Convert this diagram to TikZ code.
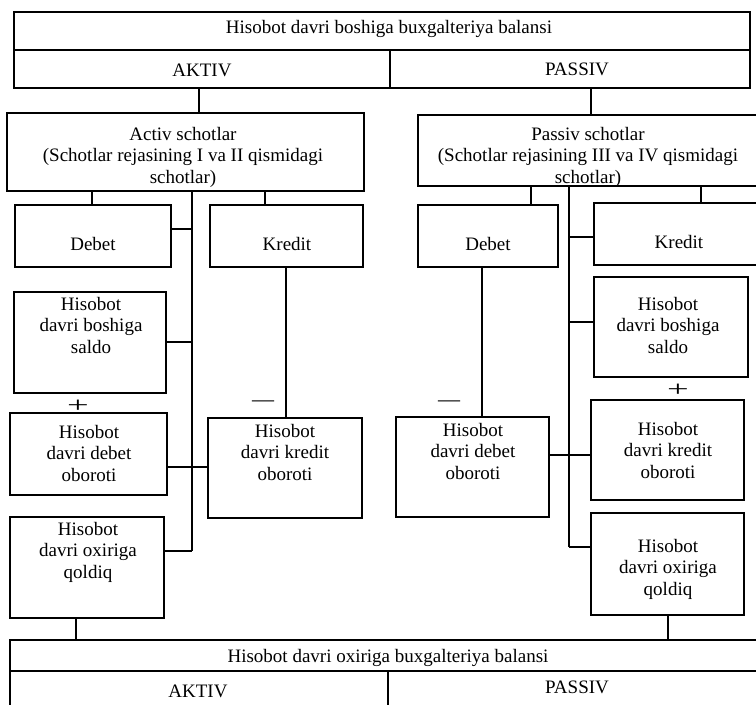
\documentclass[tikz,border=0pt]{standalone}
\usepackage{fontspec}
\usepackage{graphicx}
\setmainfont{Liberation Serif}
\usetikzlibrary{fit}
\begin{document}
\begin{tikzpicture}[x=1pt,y=-1pt,
  box/.style={draw, line width=1.5pt, inner sep=0pt, fit={#1}},
  txt/.style={align=center, inner sep=0pt, font=\fontsize{19}{21.5}\selectfont},
  sgn/.style={inner sep=0pt, font=\fontsize{22}{22}\selectfont},
  con/.style={line width=1.4pt}]
\useasboundingbox (0,0) rectangle (756,705);
\clip (0,0) rectangle (756,705);
% boxes
\node[box={(14,12) (750,50)}] (topT) {};
\node[box={(14,50) (390,88)}] (topA) {};
\node[box={(390,50) (750,88)}] (topP) {};
\node[box={(7,113) (364,191)}] (actB) {};
\node[box={(418,115) (775,186)}] (pasB) {};
\node[box={(15,205) (171,267)}] (debL) {};
\node[box={(210,205) (363,267)}] (kreL) {};
\node[box={(14,292) (166,393)}] (saldoL) {};
\node[box={(10,413) (167,495)}] (debObL) {};
\node[box={(208,418) (362,518)}] (kreObL) {};
\node[box={(10,517) (164,618)}] (qolL) {};
\node[box={(418,205) (558,267)}] (debR) {};
\node[box={(594,203) (775,265)}] (kreR) {};
\node[box={(594,277) (748,377)}] (saldoR) {};
\node[box={(591,400) (744,500)}] (kreObR) {};
\node[box={(396,417) (549,517)}] (debObR) {};
\node[box={(591,513) (744,615)}] (qolR) {};
\node[box={(10,640) (775,671)}] (botT) {};
\node[box={(10,671) (388,720)}] (botA) {};
\node[box={(388,671) (775,720)}] (botP) {};
% texts
\node[txt, anchor=base] (topT-t) at (389,33) {Hisobot davri boshiga buxgalteriya balansi};
\node[txt, anchor=base] (topA-t) at (202,76) {AKTIV};
\node[txt, anchor=base] (topP-t) at (577,75) {PASSIV};
\node[txt, anchor=north] (actB-t) at (183,127) {Activ schotlar\\(Schotlar rejasining I va II qismidagi\\schotlar)};
\node[txt, anchor=north] (pasB-t) at (588,127) {Passiv schotlar\\(Schotlar rejasining III va IV qismidagi\\schotlar)};
\node[txt, anchor=base] (debL-t) at (93,250) {Debet};
\node[txt, anchor=base] (kreL-t) at (287,250) {Kredit};
\node[txt, anchor=base] (debR-t) at (488,250) {Debet};
\node[txt, anchor=base] (kreR-t) at (679,248) {Kredit};
\node[txt, anchor=north] (saldoL-t) at (91,297) {Hisobot\\davri boshiga\\saldo};
\node[txt, anchor=north] (debObL-t) at (89,425) {Hisobot\\davri debet\\oboroti};
\node[txt, anchor=north] (kreObL-t) at (285,424) {Hisobot\\davri kredit\\oboroti};
\node[txt, anchor=north] (qolL-t) at (88,522) {Hisobot\\davri oxiriga\\qoldiq};
\node[txt, anchor=north] (saldoR-t) at (668,297) {Hisobot\\davri boshiga\\saldo};
\node[txt, anchor=north] (kreObR-t) at (668,422) {Hisobot\\davri kredit\\oboroti};
\node[txt, anchor=north] (debObR-t) at (473,423) {Hisobot\\davri debet\\oboroti};
\node[txt, anchor=north] (qolR-t) at (668,539) {Hisobot\\davri oxiriga\\qoldiq};
\node[txt, anchor=base] (botT-t) at (388,662) {Hisobot davri oxiriga buxgalteriya balansi};
\node[txt, anchor=base] (botA-t) at (198,697) {AKTIV};
\node[txt, anchor=base] (botP-t) at (577,693) {PASSIV};
\node[sgn] (plusL) at (78,406) {\scalebox{1.75}[1]{+}};
\node[sgn] (minusL) at (263,404) {—};
\node[sgn] (plusR) at (678,390) {\scalebox{1.75}[1]{+}};
\node[sgn] (minusR) at (449,404) {—};
% connectors
\coordinate (spL) at (192,551);
\coordinate (spR) at (569,547);
\draw[con] (topA.south -| 199,0) -- (actB.north -| 199,0);
\draw[con] (topP.south -| 591,0) -- (pasB.north -| 591,0);
\draw[con] (actB.south -| 92,0) -- (debL.north -| 92,0);
\draw[con] (actB.south -| 265,0) -- (kreL.north -| 265,0);
\draw[con] (kreL.south -| 286,0) -- (kreObL.north -| 286,0);
\draw[con] (qolL.south -| 76,0) -- (botT.north -| 76,0);
\draw[con] (pasB.south -| 531,0) -- (debR.north -| 531,0);
\draw[con] (pasB.south -| 701,0) -- (kreR.north -| 701,0);
\draw[con] (debR.south -| 482,0) -- (debObR.north -| 482,0);
\draw[con] (qolR.south -| 668,0) -- (botT.north -| 668,0);
% left spine
\draw[con] (actB.south -| spL) -- (spL);
\draw[con] (debL.east |- 0,229) -- (spL |- 0,229);
\draw[con] (saldoL.east |- 0,342) -- (spL |- 0,342);
\draw[con] (debObL.east |- 0,467) -- (kreObL.west |- 0,467);
\draw[con] (qolL.east |- spL) -- (spL);
% right spine
\draw[con] (pasB.south -| spR) -- (spR);
\draw[con] (kreR.west |- 0,237) -- (spR |- 0,237);
\draw[con] (saldoR.west |- 0,322) -- (spR |- 0,322);
\draw[con] (debObR.east |- 0,455) -- (kreObR.west |- 0,455);
\draw[con] (qolR.west |- spR) -- (spR);
\end{tikzpicture}
\end{document}
